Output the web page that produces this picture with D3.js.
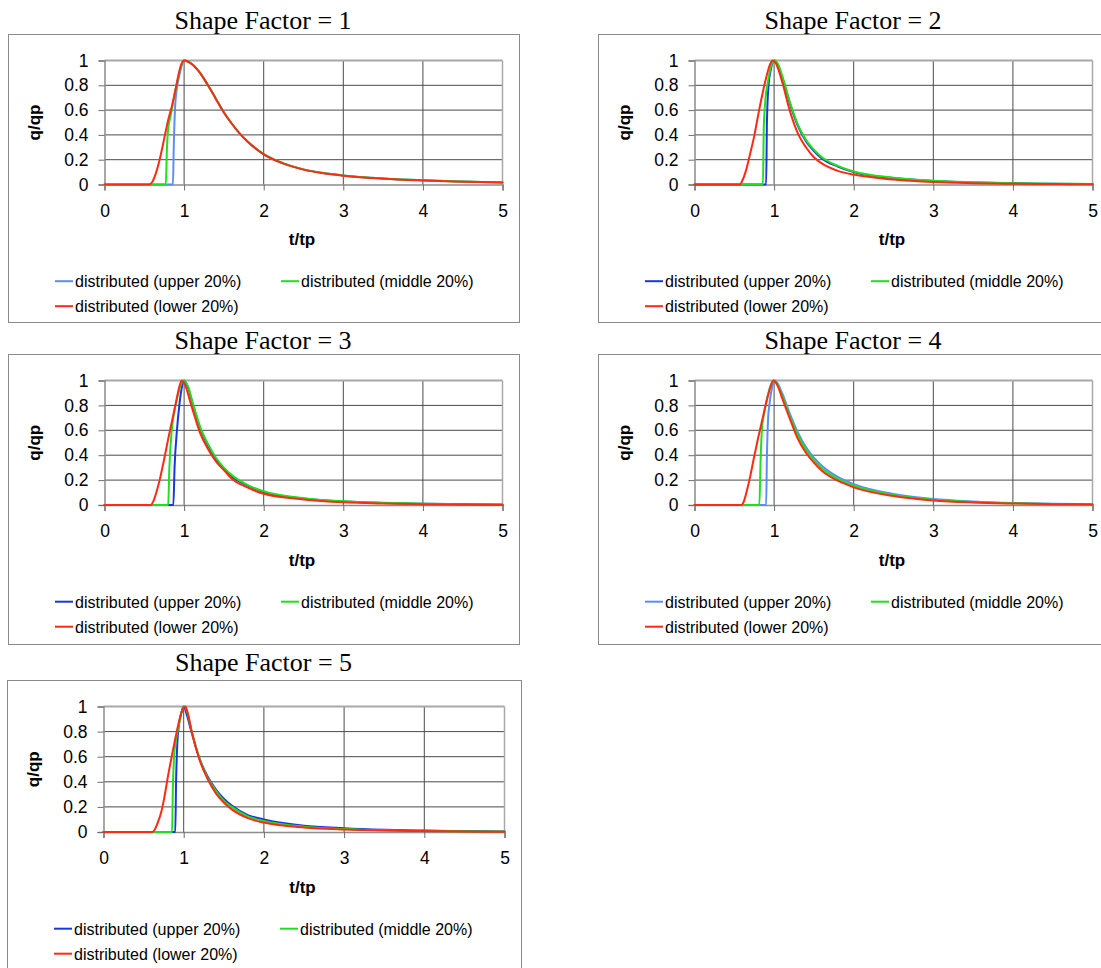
<!DOCTYPE html>
<html>
<head>
<meta charset="utf-8">
<script src="https://cdn.jsdelivr.net/npm/d3@7"></script>
<style>
  html, body { margin: 0; padding: 0; background: #ffffff; }
  svg { display: block; }
</style>
</head>
<body>
<svg id="chart" width="1101" height="968"></svg>
<script>
// ---------------- DATA ----------------
const shapeFactors = [1, 2, 3, 4, 5];
const seriesNames = ["distributed (upper 20%)", "distributed (middle 20%)", "distributed (lower 20%)"];
const tickX = [0, 1, 2, 3, 4, 5];
const tickY = [0, 0.2, 0.4, 0.6, 0.8, 1];
const tickYLabels = ["0", "0.2", "0.4", "0.6", "0.8", "1"];
const xLabel = "t/tp";
const yLabel = "q/qp";

// Shape Factor = 1  ([t/tp, q/qp])
const sf1Upper = [[0,0],[0.86,0],[0.87,0.3],[0.885,0.6],[0.91,0.78],[0.94,0.88],[0.97,0.96],[1.0,1.0],[1.1,0.97],[1.2,0.9],[1.3,0.8],[1.4,0.69],[1.5,0.58],[1.6,0.49],[1.7,0.41],[1.8,0.345],[2.0,0.245],[2.25,0.17],[2.5,0.122],[2.75,0.092],[3.0,0.073],[3.5,0.049],[4.0,0.034],[4.5,0.024],[5.0,0.017]];
const sf1Middle = [[0,0],[0.77,0],[0.785,0.3],[0.8,0.45],[0.83,0.55],[0.86,0.66],[0.9,0.79],[0.95,0.93],[1.0,1.0],[1.1,0.97],[1.2,0.9],[1.3,0.8],[1.4,0.69],[1.5,0.58],[1.6,0.49],[1.7,0.41],[1.8,0.345],[2.0,0.245],[2.25,0.17],[2.5,0.122],[2.75,0.092],[3.0,0.073],[3.5,0.049],[4.0,0.034],[4.5,0.024],[5.0,0.017]];
const sf1Lower = [[0,0],[0.56,0],[0.6,0.02],[0.65,0.1],[0.7,0.22],[0.75,0.37],[0.8,0.52],[0.85,0.64],[0.9,0.79],[0.95,0.94],[0.98,0.99],[1.0,1.0],[1.1,0.97],[1.2,0.9],[1.3,0.8],[1.4,0.69],[1.5,0.58],[1.6,0.49],[1.7,0.41],[1.8,0.345],[2.0,0.243],[2.25,0.168],[2.5,0.12],[2.75,0.09],[3.0,0.071],[3.5,0.047],[4.0,0.033],[4.5,0.023],[5.0,0.016]];

// Shape Factor = 2
const sf2Upper = [[0,0],[0.9,0],[0.91,0.5],[0.93,0.8],[0.96,0.93],[1.0,1.0],[1.05,0.96],[1.1,0.87],[1.2,0.65],[1.3,0.47],[1.4,0.35],[1.5,0.27],[1.6,0.21],[1.8,0.145],[2.0,0.1],[2.5,0.052],[3.0,0.028],[3.5,0.017],[4.0,0.01],[4.5,0.006],[5.0,0.004]];
const sf2Middle = [[0,0],[0.86,0],[0.87,0.45],[0.89,0.68],[0.92,0.82],[0.96,0.95],[1.01,1.0],[1.05,0.97],[1.1,0.88],[1.2,0.66],[1.3,0.48],[1.4,0.36],[1.5,0.28],[1.6,0.22],[1.8,0.15],[2.0,0.105],[2.5,0.055],[3.0,0.03],[3.5,0.018],[4.0,0.011],[4.5,0.007],[5.0,0.004]];
const sf2Lower = [[0,0],[0.57,0],[0.6,0.03],[0.65,0.12],[0.7,0.25],[0.75,0.39],[0.8,0.56],[0.85,0.72],[0.9,0.86],[0.95,0.97],[0.98,1.0],[1.02,0.98],[1.1,0.83],[1.2,0.59],[1.3,0.41],[1.4,0.3],[1.5,0.22],[1.6,0.17],[1.8,0.11],[2.0,0.08],[2.5,0.04],[3.0,0.02],[3.5,0.011],[4.0,0.006],[4.5,0.004],[5.0,0.002]];

// Shape Factor = 3
const sf3Upper = [[0,0],[0.865,0],[0.88,0.3],[0.91,0.6],[0.94,0.8],[0.97,0.94],[1.0,1.0],[1.05,0.94],[1.1,0.83],[1.2,0.62],[1.3,0.48],[1.4,0.37],[1.5,0.29],[1.6,0.23],[1.8,0.155],[2.0,0.105],[2.5,0.052],[3.0,0.028],[3.5,0.017],[4.0,0.01],[4.5,0.006],[5.0,0.003]];
const sf3Middle = [[0,0],[0.8,0],[0.815,0.3],[0.845,0.6],[0.88,0.76],[0.92,0.88],[0.96,0.97],[1.0,1.0],[1.05,0.95],[1.1,0.84],[1.2,0.63],[1.3,0.49],[1.4,0.38],[1.5,0.3],[1.6,0.24],[1.8,0.16],[2.0,0.11],[2.5,0.055],[3.0,0.03],[3.5,0.018],[4.0,0.011],[4.5,0.007],[5.0,0.004]];
const sf3Lower = [[0,0],[0.58,0],[0.62,0.04],[0.66,0.12],[0.7,0.22],[0.75,0.37],[0.8,0.53],[0.85,0.68],[0.9,0.83],[0.94,0.95],[0.97,1.0],[1.0,0.98],[1.1,0.78],[1.2,0.58],[1.3,0.45],[1.4,0.35],[1.5,0.28],[1.6,0.21],[1.8,0.14],[2.0,0.09],[2.5,0.045],[3.0,0.022],[3.5,0.012],[4.0,0.007],[4.5,0.004],[5.0,0.002]];

// Shape Factor = 4
const sf4Upper = [[0,0],[0.9,0],[0.91,0.4],[0.925,0.7],[0.94,0.8],[0.97,0.93],[1.01,1.0],[1.05,0.97],[1.1,0.9],[1.2,0.73],[1.3,0.58],[1.4,0.465],[1.5,0.38],[1.6,0.315],[1.8,0.225],[2.0,0.168],[2.5,0.088],[3.0,0.048],[3.5,0.028],[4.0,0.016],[4.5,0.01],[5.0,0.006]];
const sf4Middle = [[0,0],[0.815,0],[0.83,0.35],[0.846,0.6],[0.87,0.72],[0.9,0.82],[0.95,0.95],[1.0,1.0],[1.05,0.96],[1.1,0.88],[1.2,0.71],[1.3,0.56],[1.4,0.445],[1.5,0.36],[1.6,0.295],[1.8,0.21],[2.0,0.155],[2.5,0.08],[3.0,0.042],[3.5,0.024],[4.0,0.014],[4.5,0.009],[5.0,0.005]];
const sf4Lower = [[0,0],[0.59,0],[0.62,0.03],[0.66,0.12],[0.7,0.23],[0.75,0.39],[0.8,0.54],[0.85,0.68],[0.9,0.82],[0.95,0.94],[0.99,1.0],[1.05,0.95],[1.1,0.86],[1.2,0.69],[1.3,0.53],[1.4,0.42],[1.5,0.34],[1.6,0.275],[1.8,0.195],[2.0,0.142],[2.5,0.072],[3.0,0.036],[3.5,0.02],[4.0,0.012],[4.5,0.007],[5.0,0.004]];

// Shape Factor = 5
const sf5Upper = [[0,0],[0.895,0],[0.905,0.4],[0.92,0.7],[0.94,0.85],[0.97,0.95],[1.0,1.0],[1.04,0.93],[1.1,0.79],[1.2,0.58],[1.3,0.44],[1.4,0.34],[1.5,0.265],[1.6,0.21],[1.8,0.135],[2.0,0.1],[2.5,0.05],[3.0,0.03],[3.5,0.018],[4.0,0.011],[4.5,0.007],[5.0,0.004]];
const sf5Middle = [[0,0],[0.855,0],[0.865,0.35],[0.88,0.6],[0.9,0.72],[0.93,0.82],[0.97,0.95],[1.01,1.0],[1.05,0.94],[1.1,0.8],[1.2,0.58],[1.3,0.43],[1.4,0.33],[1.5,0.25],[1.6,0.2],[1.8,0.125],[2.0,0.088],[2.5,0.042],[3.0,0.024],[3.5,0.014],[4.0,0.009],[4.5,0.005],[5.0,0.003]];
const sf5Lower = [[0,0],[0.61,0],[0.64,0.02],[0.68,0.08],[0.72,0.16],[0.76,0.28],[0.8,0.43],[0.85,0.6],[0.9,0.76],[0.95,0.9],[0.99,0.98],[1.02,1.0],[1.05,0.95],[1.1,0.8],[1.2,0.57],[1.3,0.42],[1.4,0.31],[1.5,0.235],[1.6,0.18],[1.8,0.11],[2.0,0.075],[2.5,0.035],[3.0,0.019],[3.5,0.011],[4.0,0.007],[4.5,0.004],[5.0,0.002]];

const panelSeries = [
  [sf1Upper, sf1Middle, sf1Lower],
  [sf2Upper, sf2Middle, sf2Lower],
  [sf3Upper, sf3Middle, sf3Lower],
  [sf4Upper, sf4Middle, sf4Lower],
  [sf5Upper, sf5Middle, sf5Lower]
];
const upperColors = ["#5b8ef5", "#1a36e0", "#1a36e0", "#5b8ef5", "#1a36e0"];
const middleColor = "#1fe01f";
const lowerColor = "#ff2a14";

// ---------------- LAYOUT ----------------
const layout = [
  { left: 8.5,  top: 34.5,  w: 511, h: 288, pw: 398, ph: 124, tdy: -6 },
  { left: 598.5, top: 34.5, w: 511, h: 288, pw: 398, ph: 124, tdy: -6 },
  { left: 8.5,  top: 354.5, w: 511, h: 290, pw: 398, ph: 124.5, tdy: -6 },
  { left: 598.5, top: 354.5, w: 511, h: 290, pw: 398, ph: 124.5, tdy: -6 },
  { left: 7.5,  top: 680.5, w: 514, h: 300, pw: 401, ph: 125.5, tdy: -10 }
];

const svg = d3.select("#chart");
const sans = "'Liberation Sans', Arial, sans-serif";
const serif = "'Liberation Serif', 'Times New Roman', serif";

shapeFactors.forEach((sf, i) => {
  const L = layout[i];
  const g = svg.append("g").attr("transform", `translate(${L.left},${L.top})`);

  // frame
  g.append("rect").attr("x", 0).attr("y", 0).attr("width", L.w).attr("height", L.h)
    .attr("fill", "#fff").attr("stroke", "#8a8a8a").attr("stroke-width", 1);

  // title
  g.append("text").attr("x", L.w / 2 - 1).attr("y", L.tdy)
    .attr("text-anchor", "middle").attr("font-family", serif).attr("font-size", 26)
    .attr("fill", "#000").text("Shape Factor = " + sf);

  const px = 96, py = 26;
  const plot = g.append("g").attr("transform", `translate(${px},${py})`);
  const x = d3.scaleLinear().domain([0, 5]).range([0, L.pw]);
  const y = d3.scaleLinear().domain([0, 1]).range([L.ph, 0]);

  // horizontal gridlines
  plot.selectAll("line.hg").data(tickY.filter(v => v > 0 && v < 1)).enter().append("line")
    .attr("x1", 0).attr("x2", L.pw).attr("y1", d => y(d)).attr("y2", d => y(d))
    .attr("stroke", "#4a4a4a").attr("stroke-width", 1);
  // vertical gridlines
  plot.selectAll("line.vg").data(tickX.filter(v => v > 0 && v < 5)).enter().append("line")
    .attr("x1", d => x(d)).attr("x2", d => x(d)).attr("y1", 0).attr("y2", L.ph)
    .attr("stroke", "#4a4a4a").attr("stroke-width", 1);
  // plot border top/right (light gray)
  plot.append("line").attr("x1", 0).attr("x2", L.pw).attr("y1", y(1)).attr("y2", y(1))
    .attr("stroke", "#a8a8a8").attr("stroke-width", 2);
  plot.append("line").attr("x1", x(5)).attr("x2", x(5)).attr("y1", 0).attr("y2", L.ph)
    .attr("stroke", "#a8a8a8").attr("stroke-width", 1.5);

  // axes
  const xAxis = d3.axisBottom(x).tickValues(tickX).tickFormat(d3.format("d")).tickSize(6).tickPadding(14);
  const yAxis = d3.axisLeft(y).tickValues(tickY).tickFormat((d, k) => tickYLabels[k]).tickSize(6).tickPadding(10);
  const gx = plot.append("g").attr("transform", `translate(0,${L.ph})`).call(xAxis);
  const gy = plot.append("g").call(yAxis);
  [gx, gy].forEach(a => {
    a.select(".domain").attr("stroke", "#8c8c8c").attr("stroke-width", 1.5);
    a.selectAll(".tick line").attr("stroke", "#6e6e6e").attr("stroke-width", 1);
    a.selectAll(".tick text").attr("font-family", sans).attr("font-size", 17.5).attr("fill", "#000");
  });

  // axis titles
  plot.append("text").attr("x", L.pw / 2 - 1.5).attr("y", L.ph + 60.7)
    .attr("text-anchor", "middle").attr("font-family", sans).attr("font-weight", "bold")
    .attr("font-size", 17).attr("fill", "#000").text(xLabel);
  plot.append("text").attr("transform", `translate(-65,${L.ph / 2}) rotate(-90)`)
    .attr("text-anchor", "middle").attr("font-family", sans).attr("font-weight", "bold")
    .attr("font-size", 17).attr("fill", "#000").text(yLabel);

  // series
  const colors = [upperColors[i], middleColor, lowerColor];
  const line = d3.line().x(d => x(d[0])).y(d => y(d[1])).curve(d3.curveMonotoneX);
  panelSeries[i].forEach((data, k) => {
    plot.append("path").datum(data).attr("d", line)
      .attr("fill", "none").attr("stroke", colors[k]).attr("stroke-width", 2)
      .attr("stroke-linejoin", "round").attr("stroke-linecap", "round");
  });

  // legend
  const legY1 = py + L.ph + 96.7, legY2 = py + L.ph + 121.7;
  const legendPos = [
    { lx: 46.5, ly: legY1 },
    { lx: 272.5, ly: legY1 },
    { lx: 46.5, ly: legY2 }
  ];
  seriesNames.forEach((name, k) => {
    const p = legendPos[k];
    g.append("line").attr("x1", p.lx).attr("x2", p.lx + 18).attr("y1", p.ly).attr("y2", p.ly)
      .attr("stroke", colors[k]).attr("stroke-width", 2);
    g.append("text").attr("x", p.lx + 20).attr("y", p.ly + 5.8)
      .attr("font-family", sans).attr("font-size", 16).attr("fill", "#000").text(name);
  });
});
</script>
</body>
</html>
